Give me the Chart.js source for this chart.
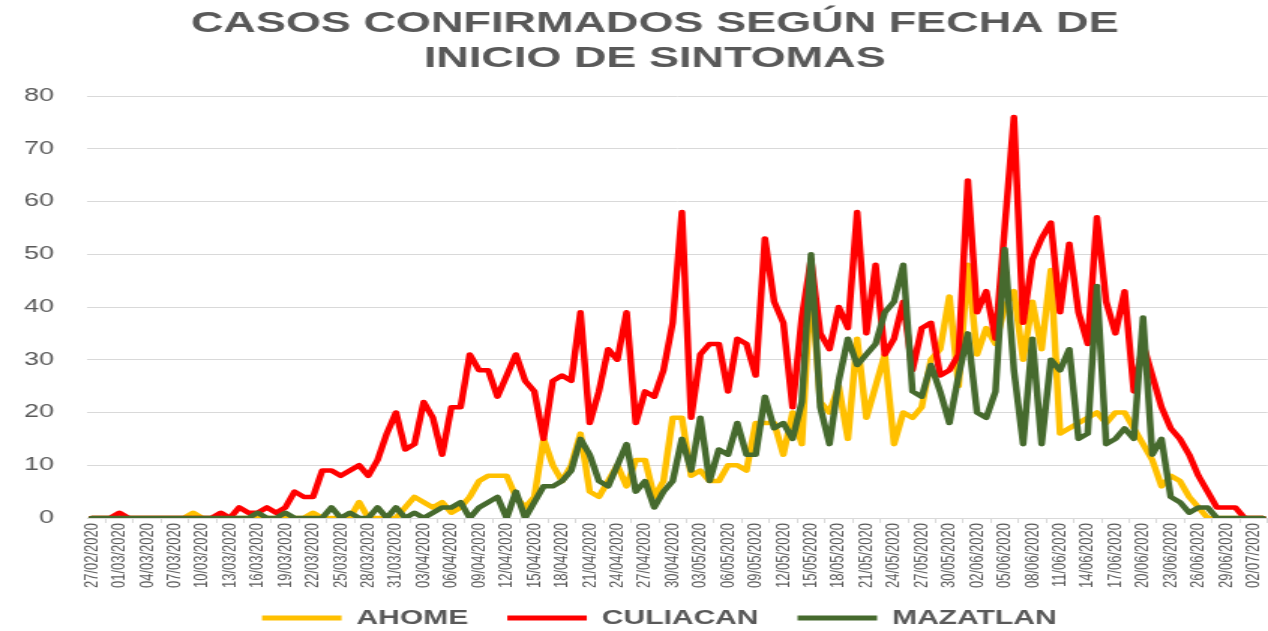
<!DOCTYPE html>
<html lang="es">
<head>
<meta charset="utf-8">
<title>Casos confirmados según fecha de inicio de síntomas</title>
<script src="https://cdn.jsdelivr.net/npm/chart.js@4/dist/chart.umd.min.js"></script>
<style>
    html, body { margin: 0; padding: 0; background: #ffffff; }
    canvas { display: block; }
</style>
</head>
<body>
<!-- the source picture is stretched sideways, so the chart is drawn narrow and widened by css -->
<canvas id="grafica" width="845" height="631" style="width:1268px;height:631px"></canvas>
<script>
const fechas = [
    '27/02/2020','28/02/2020','29/02/2020',
    '01/03/2020','02/03/2020','03/03/2020','04/03/2020','05/03/2020','06/03/2020','07/03/2020','08/03/2020','09/03/2020','10/03/2020',
    '11/03/2020','12/03/2020','13/03/2020','14/03/2020','15/03/2020','16/03/2020','17/03/2020','18/03/2020','19/03/2020','20/03/2020',
    '21/03/2020','22/03/2020','23/03/2020','24/03/2020','25/03/2020','26/03/2020','27/03/2020','28/03/2020','29/03/2020','30/03/2020','31/03/2020',
    '01/04/2020','02/04/2020','03/04/2020','04/04/2020','05/04/2020','06/04/2020','07/04/2020','08/04/2020','09/04/2020','10/04/2020',
    '11/04/2020','12/04/2020','13/04/2020','14/04/2020','15/04/2020','16/04/2020','17/04/2020','18/04/2020','19/04/2020','20/04/2020',
    '21/04/2020','22/04/2020','23/04/2020','24/04/2020','25/04/2020','26/04/2020','27/04/2020','28/04/2020','29/04/2020','30/04/2020',
    '01/05/2020','02/05/2020','03/05/2020','04/05/2020','05/05/2020','06/05/2020','07/05/2020','08/05/2020','09/05/2020','10/05/2020',
    '11/05/2020','12/05/2020','13/05/2020','14/05/2020','15/05/2020','16/05/2020','17/05/2020','18/05/2020','19/05/2020','20/05/2020',
    '21/05/2020','22/05/2020','23/05/2020','24/05/2020','25/05/2020','26/05/2020','27/05/2020','28/05/2020','29/05/2020','30/05/2020','31/05/2020',
    '01/06/2020','02/06/2020','03/06/2020','04/06/2020','05/06/2020','06/06/2020','07/06/2020','08/06/2020','09/06/2020','10/06/2020',
    '11/06/2020','12/06/2020','13/06/2020','14/06/2020','15/06/2020','16/06/2020','17/06/2020','18/06/2020','19/06/2020','20/06/2020',
    '21/06/2020','22/06/2020','23/06/2020','24/06/2020','25/06/2020','26/06/2020','27/06/2020','28/06/2020','29/06/2020','30/06/2020',
    '01/07/2020','02/07/2020','03/07/2020'
];

const ahome = [
    0,0,0,0,0,0,0,0,0,0,
    0,1,0,0,0,0,0,0,0,0,
    0,0,0,0,1,0,0,0,0,3,
    0,0,0,0,2,4,3,2,3,1,
    2,4,7,8,8,8,4,2,4,15,
    10,7,10,16,5,4,7,10,6,11,
    11,4,7,19,19,8,9,7,7,10,
    10,9,18,18,18,12,20,14,45,22,
    20,25,15,34,19,25,31,14,20,19,
    21,30,32,42,25,48,31,36,33,40,
    43,30,41,32,47,16,17,18,19,20,
    18,20,20,17,14,11,6,8,7,4,
    2,0,0,0,0,0,0,0
];

const culiacan = [
    0,0,0,1,0,0,0,0,0,0,
    0,0,0,0,1,0,2,1,1,2,
    1,2,5,4,4,9,9,8,9,10,
    8,11,16,20,13,14,22,19,12,21,
    21,31,28,28,23,27,31,26,24,15,
    26,27,26,39,18,24,32,30,39,18,
    24,23,28,37,58,19,31,33,33,24,
    34,33,27,53,41,37,21,38,49,35,
    32,40,36,58,35,48,31,34,41,28,
    36,37,27,28,31,64,39,43,34,55,
    76,37,49,53,56,39,52,39,33,57,
    41,35,43,24,33,27,21,17,15,12,
    8,5,2,2,2,0,0,0
];

const mazatlan = [
    0,0,0,0,0,0,0,0,0,0,
    0,0,0,0,0,0,0,0,1,0,
    0,1,0,0,0,0,2,0,1,0,
    0,2,0,2,0,1,0,1,2,2,
    3,0,2,3,4,0,5,0,3,6,
    6,7,9,15,12,7,6,10,14,5,
    7,2,5,7,15,9,19,7,13,12,
    18,12,12,23,17,18,15,22,50,21,
    14,26,34,29,31,33,39,41,48,24,
    23,29,24,18,27,35,20,19,24,51,
    28,14,34,14,30,28,32,15,16,44,
    14,15,17,15,38,12,15,4,3,1,
    2,2,0,0,0,0,0,0
];

const yTicks = [0, 10, 20, 30, 40, 50, 60, 70, 80];

const GRAY_TEXT = '#595959';
const GRAY_GRID = '#d9d9d9';

function serie(label, values, color, order) {
    return {
        label: label,
        data: values,
        borderColor: color,
        backgroundColor: color,
        borderWidth: 4.5,
        borderJoinStyle: 'round',
        borderCapStyle: 'round',
        pointRadius: 0,
        pointHoverRadius: 0,
        tension: 0,
        fill: false,
        order: order
    };
}

// the original title and legend sit a little right of centre, and the legend a bit higher
const blockShift = {
    id: 'blockShift',
    afterLayout(chart) {
        chart.titleBlock.left += 14;
        chart.titleBlock.right += 14;
        chart.legend.left += 17;
        chart.legend.right += 17;
        chart.legend.top -= 7;
    }
};

const ctx = document.getElementById('grafica').getContext('2d');

new Chart(ctx, {
    type: 'line',
    data: {
        labels: fechas,
        datasets: [
            serie('AHOME', ahome, '#ffc000', 3),
            serie('CULIACAN', culiacan, '#ff0000', 2),
            serie('MAZATLAN', mazatlan, '#466a2e', 1)
        ]
    },
    plugins: [blockShift],
    options: {
        responsive: false,
        devicePixelRatio: 1,
        animation: false,
        events: [],
        layout: { padding: { left: 0, right: 0.3, top: 0, bottom: 0 } },
        plugins: {
            title: {
                display: true,
                text: ['CASOS CONFIRMADOS SEGÚN FECHA DE', 'INICIO DE SINTOMAS'],
                color: GRAY_TEXT,
                font: { family: 'Liberation Sans', size: 30, weight: 'bold', lineHeight: 35 / 30 },
                padding: { top: 6.5, bottom: 19.5 }
            },
            legend: {
                position: 'bottom',
                maxHeight: 42,
                labels: {
                    boxWidth: 53,
                    boxHeight: 5,
                    padding: 26,
                    color: GRAY_TEXT,
                    font: { family: 'Liberation Sans', size: 20, weight: 'bold' },
                    generateLabels: (chart) => {
                        const items = Chart.defaults.plugins.legend.labels.generateLabels(chart);
                        items.forEach(item => {
                            item.fillStyle = item.strokeStyle;
                            item.lineWidth = 0;
                        });
                        return items.sort((a, b) => a.datasetIndex - b.datasetIndex);
                    }
                }
            },
            tooltip: { enabled: false }
        },
        scales: {
            x: {
                offset: true,
                grid: {
                    offset: true,
                    drawOnChartArea: false,
                    drawTicks: true,
                    tickLength: 5,
                    color: GRAY_GRID
                },
                border: { display: true, color: GRAY_GRID },
                ticks: {
                    autoSkip: false,
                    maxRotation: 90,
                    minRotation: 90,
                    padding: 0,
                    color: GRAY_TEXT,
                    font: { family: 'Liberation Sans', size: 13 },
                    callback: function (value, index) {
                        return index % 3 === 0 ? this.getLabelForValue(value) : null;
                    }
                },
                afterFit: (scale) => {
                    scale.height = 71;
                    scale.paddingLeft = 0;
                    scale.paddingRight = 0;
                }
            },
            y: {
                min: yTicks[0],
                max: yTicks[yTicks.length - 1],
                afterBuildTicks: (scale) => { scale.ticks = yTicks.map(v => ({ value: v })); },
                grid: { color: GRAY_GRID, lineWidth: 1, drawTicks: false },
                border: { display: false },
                ticks: {
                    padding: 22,
                    color: GRAY_TEXT,
                    font: { family: "'Liberation Sans Narrow', 'Liberation Sans'", size: 18 }
                },
                afterFit: (scale) => { scale.width = 58; }
            }
        }
    }
});
</script>
</body>
</html>
